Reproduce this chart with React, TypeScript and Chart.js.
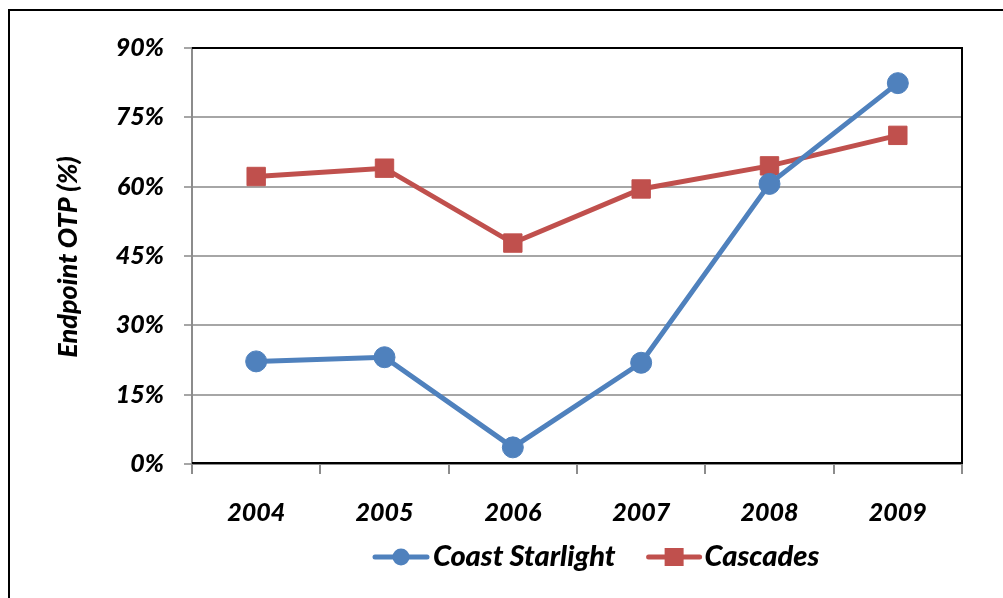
import React, { useEffect, useRef } from "react";
import { Chart, registerables } from "chart.js";

Chart.register(...registerables);

const categories = ["2004", "2005", "2006", "2007", "2008", "2009"];
const coastStarlight = [22.2, 23.1, 3.6, 21.9, 60.6, 82.4];
const cascades = [62.2, 64.0, 47.8, 59.5, 64.5, 71.1];
const seriesNames = ["Coast Starlight", "Cascades"];
const yTitle = "Endpoint OTP (%)";
const yMin = 0;
const yMax = 90;
const yStep = 15;

const BLUE = "#4f81bd";
const RED = "#c0504d";
const FONT_FAMILY = "Lato, 'Open Sans', sans-serif";
const FONT_SIZE = 25;
const FONT_WEIGHT = 900;
const LEGEND_SIZE = 29;
const TITLE_SIZE = 27;

const customPlugin = {
  id: "customDecor",
  beforeDatasetsDraw(chart: any) {
    const { ctx, chartArea } = chart;
    ctx.save();
    ctx.strokeStyle = "#000";
    ctx.lineWidth = 2;
    ctx.beginPath();
    ctx.moveTo(chartArea.left, chartArea.top);
    ctx.lineTo(chartArea.right, chartArea.top);
    ctx.lineTo(chartArea.right, chartArea.bottom - 1);
    ctx.lineTo(chartArea.left, chartArea.bottom - 1);
    ctx.stroke();
    ctx.restore();
  },
  afterDraw(chart: any) {
    const { ctx, chartArea } = chart;
    ctx.save();
    ctx.fillStyle = "#000";
    // y title
    ctx.save();
    ctx.font = `italic ${FONT_WEIGHT} ${TITLE_SIZE}px ${FONT_FAMILY}`;
    ctx.translate(58, (chartArea.top + chartArea.bottom) / 2 + 1);
    ctx.rotate(-Math.PI / 2);
    ctx.textAlign = "center";
    ctx.textBaseline = "middle";
    ctx.fillText(yTitle, 0, 0);
    ctx.restore();

    // legend
    ctx.font = `italic ${FONT_WEIGHT} ${LEGEND_SIZE}px ${FONT_FAMILY}`;
    const ly = 546;
    let x = 363;
    ctx.textBaseline = "middle";
    ctx.textAlign = "left";
    ctx.lineCap = "round";
    // item 1
    ctx.strokeStyle = BLUE;
    ctx.lineWidth = 5;
    ctx.beginPath();
    ctx.moveTo(x + 2, ly);
    ctx.lineTo(x + 54, ly);
    ctx.stroke();
    ctx.fillStyle = BLUE;
    ctx.beginPath();
    ctx.arc(x + 28, ly, 8.5, 0, Math.PI * 2);
    ctx.fill();
    x += 60;
    ctx.fillStyle = "#000";
    ctx.fillText(seriesNames[0], x, ly);
    x += ctx.measureText(seriesNames[0]).width + 31;
    // item 2
    ctx.strokeStyle = RED;
    ctx.beginPath();
    ctx.moveTo(x + 2, ly);
    ctx.lineTo(x + 53, ly);
    ctx.stroke();
    ctx.fillStyle = RED;
    ctx.fillRect(x + 18, ly - 9, 19, 18);
    x += 58;
    ctx.fillStyle = "#000";
    ctx.fillText(seriesNames[1], x, ly);
    ctx.restore();
  },
};

export default function App() {
  const canvasRef = useRef<HTMLCanvasElement | null>(null);

  useEffect(() => {
    if (!canvasRef.current) return;
    const font = { family: FONT_FAMILY, size: FONT_SIZE, style: "italic" as const, weight: FONT_WEIGHT };
    const chart = new Chart(canvasRef.current, {
      type: "line",
      data: {
        labels: categories,
        datasets: [
          {
            label: seriesNames[0],
            data: coastStarlight,
            borderColor: BLUE,
            backgroundColor: BLUE,
            borderWidth: 5,
            pointStyle: "circle",
            pointRadius: 10.5,
            pointBorderWidth: 1,
            pointBackgroundColor: BLUE,
            pointBorderColor: BLUE,
            tension: 0,
          },
          {
            label: seriesNames[1],
            data: cascades,
            borderColor: RED,
            backgroundColor: RED,
            borderWidth: 5,
            pointStyle: "rect",
            pointRadius: 13,
            pointBorderWidth: 1,
            pointBackgroundColor: RED,
            pointBorderColor: RED,
            tension: 0,
          },
        ],
      },
      options: {
        responsive: false,
        animation: false,
        devicePixelRatio: 1,
        layout: { padding: { top: 37, right: 41, left: 0, bottom: 0 } },
        plugins: {
          legend: { display: false },
          tooltip: { enabled: false },
          title: { display: false },
        },
        scales: {
          x: {
            type: "category",
            offset: true,
            grid: {
              offset: true,
              drawOnChartArea: false,
              drawTicks: true,
              tickLength: 10,
              color: "#8c8c8c",
              lineWidth: 2,
            },
            border: { display: true, color: "#8c8c8c", width: 2 },
            ticks: { font, color: "#000", padding: 24, maxRotation: 0 },
            afterFit(scale: any) {
              scale.height = 134;
            },
          },
          y: {
            min: yMin,
            max: yMax,
            grid: {
              color: "#a6a6a6",
              lineWidth: 2,
              tickLength: 8,
              drawTicks: true,
            },
            border: { display: true, color: "#8c8c8c", width: 2 },
            ticks: {
              stepSize: yStep,
              font,
              color: "#000",
              padding: 20,
              callback: (v: any) => `${v}%`,
            },
            afterFit(scale: any) {
              scale.width = 182;
            },
          },
        },
      },
      plugins: [customPlugin],
    });
    return () => chart.destroy();
  }, []);

  return (
    <div
      style={{
        position: "absolute",
        left: 8,
        top: 9,
        borderLeft: "2px solid #000",
        borderTop: "2px solid #000",
        width: 993,
        height: 587,
        background: "#fff",
      }}
    >
      <canvas ref={canvasRef} width={993} height={587} style={{ display: "block" }} />
    </div>
  );
}
